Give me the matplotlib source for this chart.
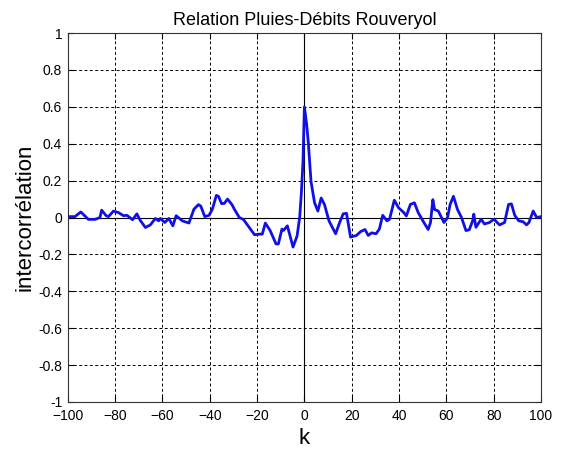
import numpy as np
import matplotlib.pyplot as plt

plt.rcParams['font.family'] = ['Liberation Sans', 'DejaVu Sans']

# lag k and cross-correlation values
k = [-100, -97, -94.5, -91.3, -88.5, -86.4, -85.7, -83.8, -82.8, -80.7, -78.6, -76.5,
     -75, -72.6, -70.8, -69.4, -67.2, -65.1, -63, -61.6, -60.9, -59, -57.3, -55.6,
     -54.2, -51.6, -48.8, -46.7, -44.8, -43.8, -42.1, -40.3, -38.9, -37.2, -36.3, -35,
     -33.8, -32.5, -30.6, -29.6, -27.5, -25.8, -23.3, -21.1, -19, -17.8, -16.5, -14.5,
     -12, -11, -9.5, -8.8, -7.2, -4.8, -3.1, -2, -1.3, -0.6, 0, 1, 1.7, 2.8, 4.3, 5.7,
     7.1, 8.5, 10.4, 13.2, 14.9, 16.4, 17.8, 19.5, 22, 23.8, 25.6, 27, 28.4, 30.3,
     31.7, 33.1, 34.9, 36, 38, 39.8, 42, 43.1, 44.8, 46.5, 48.1, 50.5, 52.3, 53.3,
     54.3, 55, 56.6, 59, 60.5, 61.6, 63, 64.7, 66.4, 68.3, 69.7, 71.1, 71.6, 72.5,
     74.7, 76.1, 78.2, 80.1, 82.5, 84.6, 86.3, 87.5, 88.9, 90.6, 92.5, 93.9, 94.9,
     96.7, 98.2, 100]
r = [0.005, 0.005, 0.03, -0.01, -0.01, 0.0, 0.04, 0.01, 0.005, 0.035, 0.027, 0.01,
     0.012, -0.012, 0.02, -0.015, -0.054, -0.04, -0.005, -0.018, -0.005, -0.027, -0.005, -0.045,
     0.01, -0.018, -0.03, 0.045, 0.07, 0.062, 0.005, 0.012, 0.045, 0.12, 0.115, 0.075,
     0.077, 0.1, 0.07, 0.045, 0.0, -0.01, -0.054, -0.093, -0.09, -0.09, -0.03, -0.07,
     -0.143, -0.143, -0.063, -0.07, -0.045, -0.16, -0.1, 0.0, 0.13, 0.3, 0.6, 0.5, 0.4, 0.195, 0.08, 0.035,
     0.106, 0.07, -0.018, -0.088, -0.027, 0.02, 0.023, -0.106, -0.097, -0.076, -0.065, -0.097, -0.083, -0.088,
     -0.062, 0.012, -0.018, -0.009, 0.094, 0.053, 0.027, 0.009, 0.071, 0.08, 0.027, -0.027, -0.065, -0.027,
     0.097, 0.044, 0.035, -0.027, 0.0, 0.071, 0.115, 0.044, 0.0, -0.071, -0.066, -0.018, 0.018, -0.053,
     -0.009, -0.035, -0.027, -0.009, -0.04, -0.027, 0.071, 0.074, 0.012, -0.018, -0.023, -0.04, -0.027,
     0.035, 0.0, 0.005]

xticks = np.arange(-100, 101, 20)
yticks = np.round(np.arange(-1, 1.01, 0.2), 1)
ylabels = ["-1", "-0.8", "-0.6", "-0.4", "-0.2", "0", "0.2", "0.4", "0.6", "0.8", "1"]

fig = plt.figure(figsize=(5.65, 4.53), dpi=100)
ax = fig.add_axes([0.12, 0.1126, 0.8375, 0.8144])

ax.axhline(0, color="black", lw=0.8, zorder=1)
ax.axvline(0, color="black", lw=0.8, zorder=1)
ax.plot(k, r, color="#1010e6", lw=2, zorder=3)

ax.set_xlim(-100, 100)
ax.set_ylim(-1, 1)
ax.set_xticks(xticks)
ax.set_yticks(yticks)
ax.set_yticklabels(ylabels)
ax.grid(True, color="black", linestyle=(0, (3, 2.5)), lw=0.7)
ax.tick_params(direction="in", labelsize=10, length=4, pad=3,
               top=True, right=True)
ax.tick_params(axis="x", pad=5)
ax.tick_params(axis="y", pad=4)
for s in ax.spines.values():
    s.set_color("#333333")

ax.set_title("Relation Pluies-Débits Rouveryol", fontsize=13, pad=6)
ax.set_xlabel("k", fontsize=16, labelpad=4)
ax.set_ylabel("intercorrélation", fontsize=16, labelpad=2)

fig.savefig("out.png", dpi=100)
